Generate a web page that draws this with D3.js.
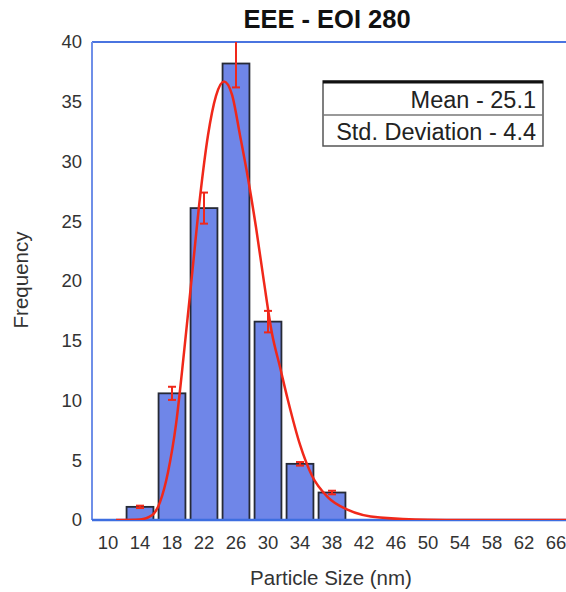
<!DOCTYPE html>
<html>
<head>
<meta charset="utf-8">
<script src="https://cdn.jsdelivr.net/npm/d3@7"></script>
<style>
  body { margin: 0; background: #fff; }
  svg { display: block; font-family: "Liberation Sans", Arial, sans-serif; }
</style>
</head>
<body>
<svg width="566" height="592"></svg>
<script>
var marge = { top: 42, bottom: 72, left: 92, right: -6 }

// 数据
var sizes = [10, 14, 18, 22, 26, 30, 34, 38, 42, 46, 50, 54, 58, 62, 66];
var counts = [0, 1.1, 10.6, 26.1, 38.2, 16.6, 4.7, 2.3, 0, 0, 0, 0, 0, 0, 0];
var errs = [0, 0.1, 0.55, 1.3, 2.0, 0.9, 0.15, 0.15, 0, 0, 0, 0, 0, 0, 0];
var yTicks = [0, 5, 10, 15, 20, 25, 30, 35, 40];
// 拟合曲线
var fitX = [11, 14, 15.5, 16.5, 17.5, 18.5, 19.5, 20.5, 21.5, 22.5, 23.5, 24.5, 25.5, 26.5, 27.5, 28.5, 29.5, 30.5, 31.5, 32.5, 34, 35.5, 37.5, 40, 44, 50, 58, 68];
var fitY = [0, 0.05, 0.4, 1.5, 4.0, 8.0, 14.0, 20.5, 27.0, 32.2, 35.5, 36.7, 35.6, 32.2, 28.6, 24.5, 19.9, 15.6, 12.8, 10.0, 6.3, 3.7, 1.9, 0.85, 0.2, 0.02, 0, 0];
var legendRows = ["Mean - 25.1", "Std. Deviation - 4.4"];

var W = 566, H = 592;
var pw = W - marge.left - marge.right, ph = H - marge.top - marge.bottom;
var svg = d3.select("svg");
var g = svg.append("g").attr("transform", "translate(" + marge.left + "," + marge.top + ")");

var x = d3.scaleBand().domain(sizes).range([0, pw]).paddingInner(0.16).paddingOuter(0.08);
var xl = d3.scaleLinear()
    .domain([sizes[0], sizes[sizes.length - 1]])
    .range([x(sizes[0]) + x.bandwidth() / 2, x(sizes[sizes.length - 1]) + x.bandwidth() / 2]);
var y = d3.scaleLinear().domain([0, 40]).range([ph, 0]);

svg.append("clipPath").attr("id", "clip")
  .append("rect").attr("x", 0).attr("y", 0).attr("width", pw).attr("height", ph);

// 柱子
g.selectAll("rect.bar")
  .data(counts)
  .enter()
  .append("rect")
  .attr("class", "bar")
  .attr("x", function(d, i) { return x(sizes[i]); })
  .attr("y", function(d) { return y(d); })
  .attr("width", x.bandwidth())
  .attr("height", function(d) { return ph - y(d); })
  .attr("fill", function(d) { return d > 0 ? "#6f86e8" : "none"; })
  .attr("stroke", function(d) { return d > 0 ? "#262a36" : "none"; })
  .attr("stroke-width", 1.8);

// 边框
g.append("line").attr("x1", 0).attr("x2", pw).attr("y1", 0).attr("y2", 0)
  .attr("stroke", "#4a74e0").attr("stroke-width", 2);
g.append("line").attr("x1", 0).attr("x2", 0).attr("y1", 0).attr("y2", ph)
  .attr("stroke", "#6f8fe8").attr("stroke-width", 2);
g.append("line").attr("x1", 0).attr("x2", pw).attr("y1", ph).attr("y2", ph)
  .attr("stroke", "#3d6ee0").attr("stroke-width", 2.5);

// 误差线
var eg = g.append("g").attr("clip-path", "url(#clip)");
var err = counts.map(function(d, i) { return { s: sizes[i], v: d, e: errs[i] }; })
  .filter(function(d) { return d.v > 0; });
eg.selectAll("line.eb")
  .data(err).enter().append("line")
  .attr("x1", function(d) { return x(d.s) + x.bandwidth() / 2; })
  .attr("x2", function(d) { return x(d.s) + x.bandwidth() / 2; })
  .attr("y1", function(d) { return y(d.v + d.e); })
  .attr("y2", function(d) { return y(d.v - d.e); })
  .attr("stroke", "#f0281a").attr("stroke-width", 2);
[1, -1].forEach(function(sgn) {
  eg.selectAll("line.cap" + sgn)
    .data(err).enter().append("line")
    .attr("x1", function(d) { return x(d.s) + x.bandwidth() / 2 - 4; })
    .attr("x2", function(d) { return x(d.s) + x.bandwidth() / 2 + 4; })
    .attr("y1", function(d) { return y(d.v + sgn * d.e); })
    .attr("y2", function(d) { return y(d.v + sgn * d.e); })
    .attr("stroke", "#f0281a").attr("stroke-width", 2);
});

// 拟合曲线
var line = d3.line()
  .x(function(d) { return xl(d[0]); })
  .y(function(d) { return y(d[1]); })
  .curve(d3.curveMonotoneX);
eg.append("path")
  .datum(fitX.map(function(v, i) { return [v, fitY[i]]; }))
  .attr("d", line)
  .attr("fill", "none")
  .attr("stroke", "#f0281a")
  .attr("stroke-width", 2.5);

// 坐标轴文字
g.selectAll("text.yt")
  .data(yTicks).enter().append("text")
  .attr("x", -10).attr("y", function(d) { return y(d); })
  .attr("dy", "0.35em").attr("text-anchor", "end")
  .attr("font-size", 18.5).attr("fill", "#333")
  .text(function(d) { return d; });
g.selectAll("text.xt")
  .data(sizes).enter().append("text")
  .attr("x", function(d) { return x(d) + x.bandwidth() / 2; })
  .attr("y", ph + 29)
  .attr("text-anchor", "middle")
  .attr("font-size", 18.5).attr("fill", "#333")
  .text(function(d) { return d; });

svg.append("text").attr("x", 327).attr("y", 28)
  .attr("text-anchor", "middle").attr("font-size", 25.5).attr("font-weight", "bold")
  .attr("fill", "#111").text("EEE - EOI 280");
svg.append("text").attr("x", 331).attr("y", 585)
  .attr("text-anchor", "middle").attr("font-size", 20.5).attr("fill", "#333")
  .text("Particle Size (nm)");
svg.append("text").attr("transform", "translate(28,280) rotate(-90)")
  .attr("text-anchor", "middle").attr("font-size", 20.5).attr("fill", "#333")
  .text("Frequency");

// 图例
var lg = svg.append("g").attr("transform", "translate(323,81)");
lg.append("rect").attr("x", 0).attr("y", 0).attr("width", 220).attr("height", 65)
  .attr("fill", "#fff").attr("stroke", "#555").attr("stroke-width", 1.5);
lg.append("line").attr("x1", 0).attr("x2", 220).attr("y1", 1).attr("y2", 1)
  .attr("stroke", "#111").attr("stroke-width", 3);
lg.append("line").attr("x1", 0).attr("x2", 220).attr("y1", 34).attr("y2", 34)
  .attr("stroke", "#777").attr("stroke-width", 1.5);
lg.selectAll("text").data(legendRows).enter().append("text")
  .attr("x", 213).attr("y", function(d, i) { return 27 + i * 32; })
  .attr("text-anchor", "end").attr("font-size", 23.5).attr("fill", "#222")
  .text(function(d) { return d; });
</script>
</body>
</html>
